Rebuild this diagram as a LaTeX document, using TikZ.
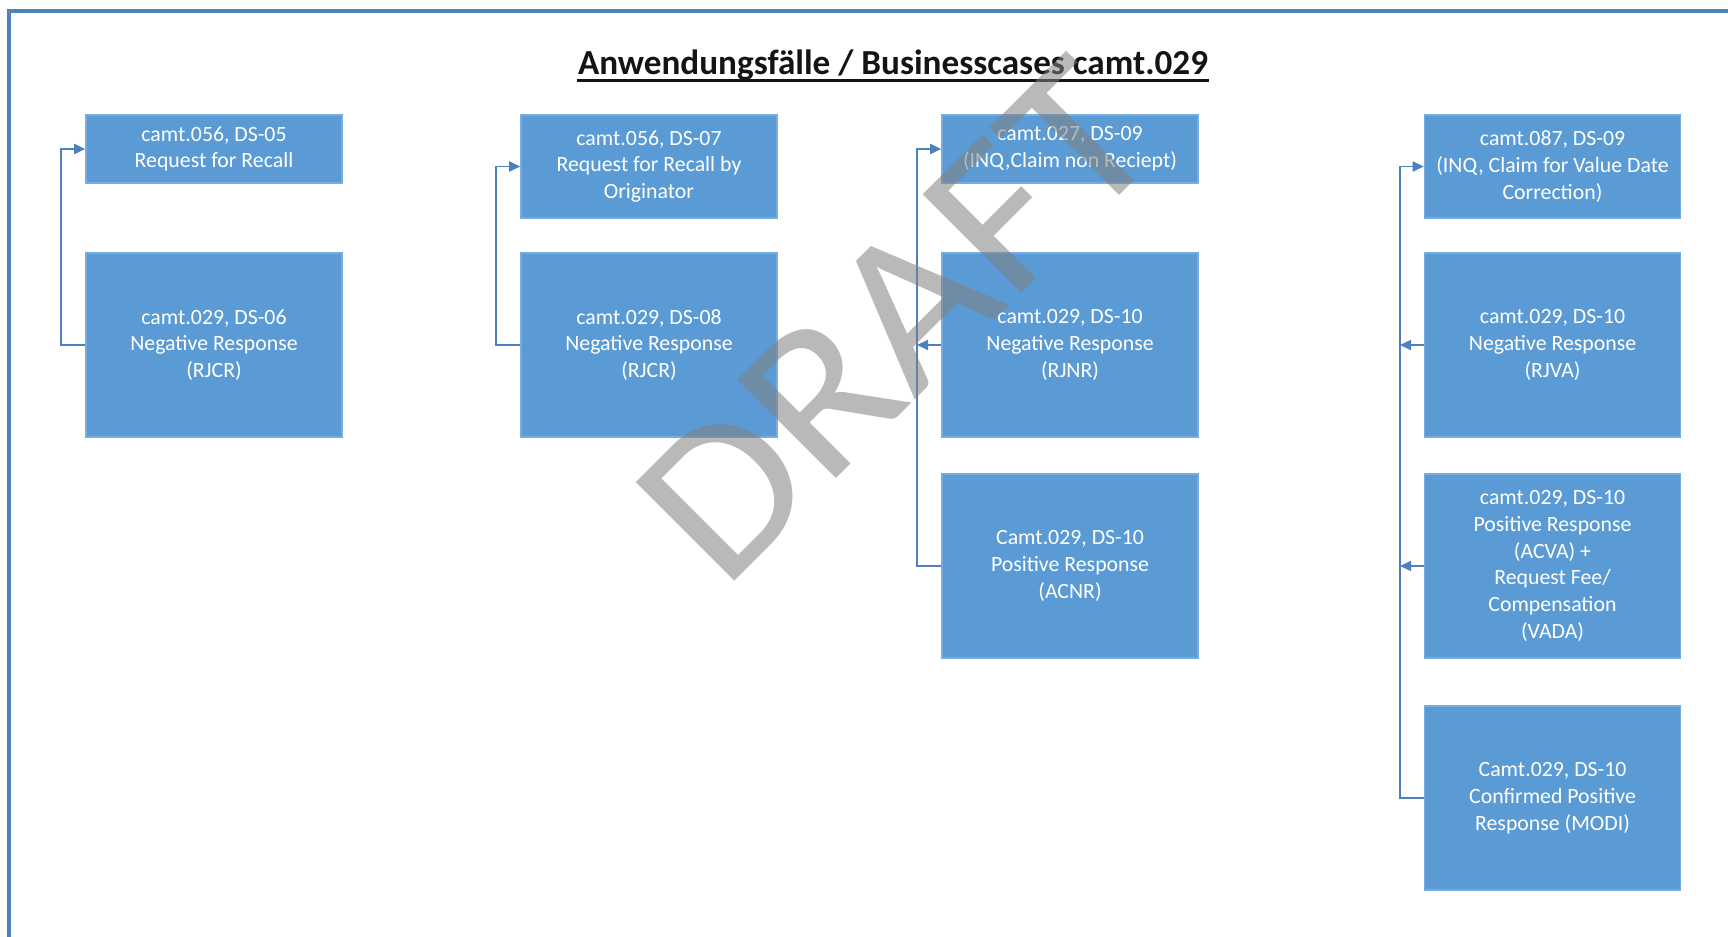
\documentclass[tikz,border=0pt]{standalone}
\usepackage{fontspec}
\setmainfont{Carlito}
\usetikzlibrary{arrows.meta,positioning}
\definecolor{cbBox}{RGB}{91,155,213}
\definecolor{cbEdge}{RGB}{120,172,222}
\definecolor{cbLine}{RGB}{76,128,190}
\definecolor{cbFrame}{RGB}{79,129,189}
\definecolor{cbInk}{RGB}{20,20,20}
\definecolor{cbMark}{RGB}{128,128,128}
\tikzset{
  msgbox/.style={fill=cbBox, draw=cbEdge, line width=0.4pt, text=white, align=center,
    minimum width=2.56cm, inner sep=0pt, font=\fontsize{6.2}{7.6}\selectfont},
  conn/.style={draw=cbLine, line width=0.5pt, -{Triangle[length=1.1mm,width=1mm]}},
}

\begin{document}
\begin{tikzpicture}[x=0.01cm,y=-0.01cm]
  \useasboundingbox (0,0) rectangle (1728,937);
  \draw[draw=cbFrame,line width=1.3pt] (9,937) -- (9,11) -- (1728,11);
  \node[anchor=base,text=cbInk,inner sep=0pt,font=\fontsize{10}{12}\selectfont\bfseries] (title) at (893,75)
    {Anwendungsfälle / Businesscases camt.029};
  \draw[cbInk,line width=0.7pt] ([yshift=-1.6pt]title.base west) -- ([yshift=-1.6pt]title.base east);
  \coordinate (trA) at (61,0);
  \coordinate (trB) at (496,0);
  \coordinate (trC) at (917,0);
  \coordinate (trD) at (1400,0);
  \node[msgbox,minimum height=0.68cm] (rcl05) at (214,149) {camt.056, DS-05\\Request for Recall};
  \node[msgbox,minimum height=1.84cm] (rjcr06) at (214,345) {camt.029, DS-06\\Negative Response\\(RJCR)};
  \node[msgbox,minimum height=1.03cm] (rcl07) at (649,166.5) {camt.056, DS-07\\Request for Recall by\\Originator};
  \node[msgbox,minimum height=1.84cm] (rjcr08) at (649,345) {camt.029, DS-08\\Negative Response\\(RJCR)};
  \node[msgbox,minimum height=0.68cm] (inq27) at (1070,149) {camt.027, DS-09\\(INQ,Claim non Reciept)};
  \node[msgbox,minimum height=1.84cm] (rjnr) at (1070,345) {camt.029, DS-10\\Negative Response\\(RJNR)};
  \node[msgbox,minimum height=1.84cm] (acnr) at (1070,566) {Camt.029, DS-10\\Positive Response\\(ACNR)};
  \node[msgbox,minimum height=1.03cm] (inq87) at (1552.5,166.5) {camt.087, DS-09\\(INQ, Claim for Value Date\\Correction)};
  \node[msgbox,minimum height=1.84cm] (rjva) at (1552.5,345) {camt.029, DS-10\\Negative Response\\(RJVA)};
  \node[msgbox,minimum height=1.84cm] (acva) at (1552.5,566) {camt.029, DS-10\\Positive Response\\(ACVA) +\\Request Fee/\\Compensation\\(VADA)};
  \node[msgbox,minimum height=1.84cm] (modi) at (1552.5,798) {Camt.029, DS-10\\Confirmed Positive\\Response (MODI)};
  \draw[conn] (rjcr06.west) -- (trA |- rjcr06.west) |- (rcl05.west);
  \draw[conn] (rjcr08.west) -- (trB |- rjcr08.west) |- (rcl07.west);
  \draw[conn] (acnr.west) -- (trC |- acnr.west) |- (inq27.west);
  \draw[conn] (rjnr.west) -- (trC |- rjnr.west);
  \draw[conn] (modi.west) -- (trD |- modi.west) |- (inq87.west);
  \draw[conn] (rjva.west) -- (trD |- rjva.west);
  \draw[conn] (acva.west) -- (trD |- acva.west);
  \node[rotate=45,xscale=1.11,yscale=1.03,text=cbMark,opacity=0.55,font=\fontsize{60}{60}\selectfont] (wmark) at (896,321) {DRAFT};
\end{tikzpicture}
\end{document}
